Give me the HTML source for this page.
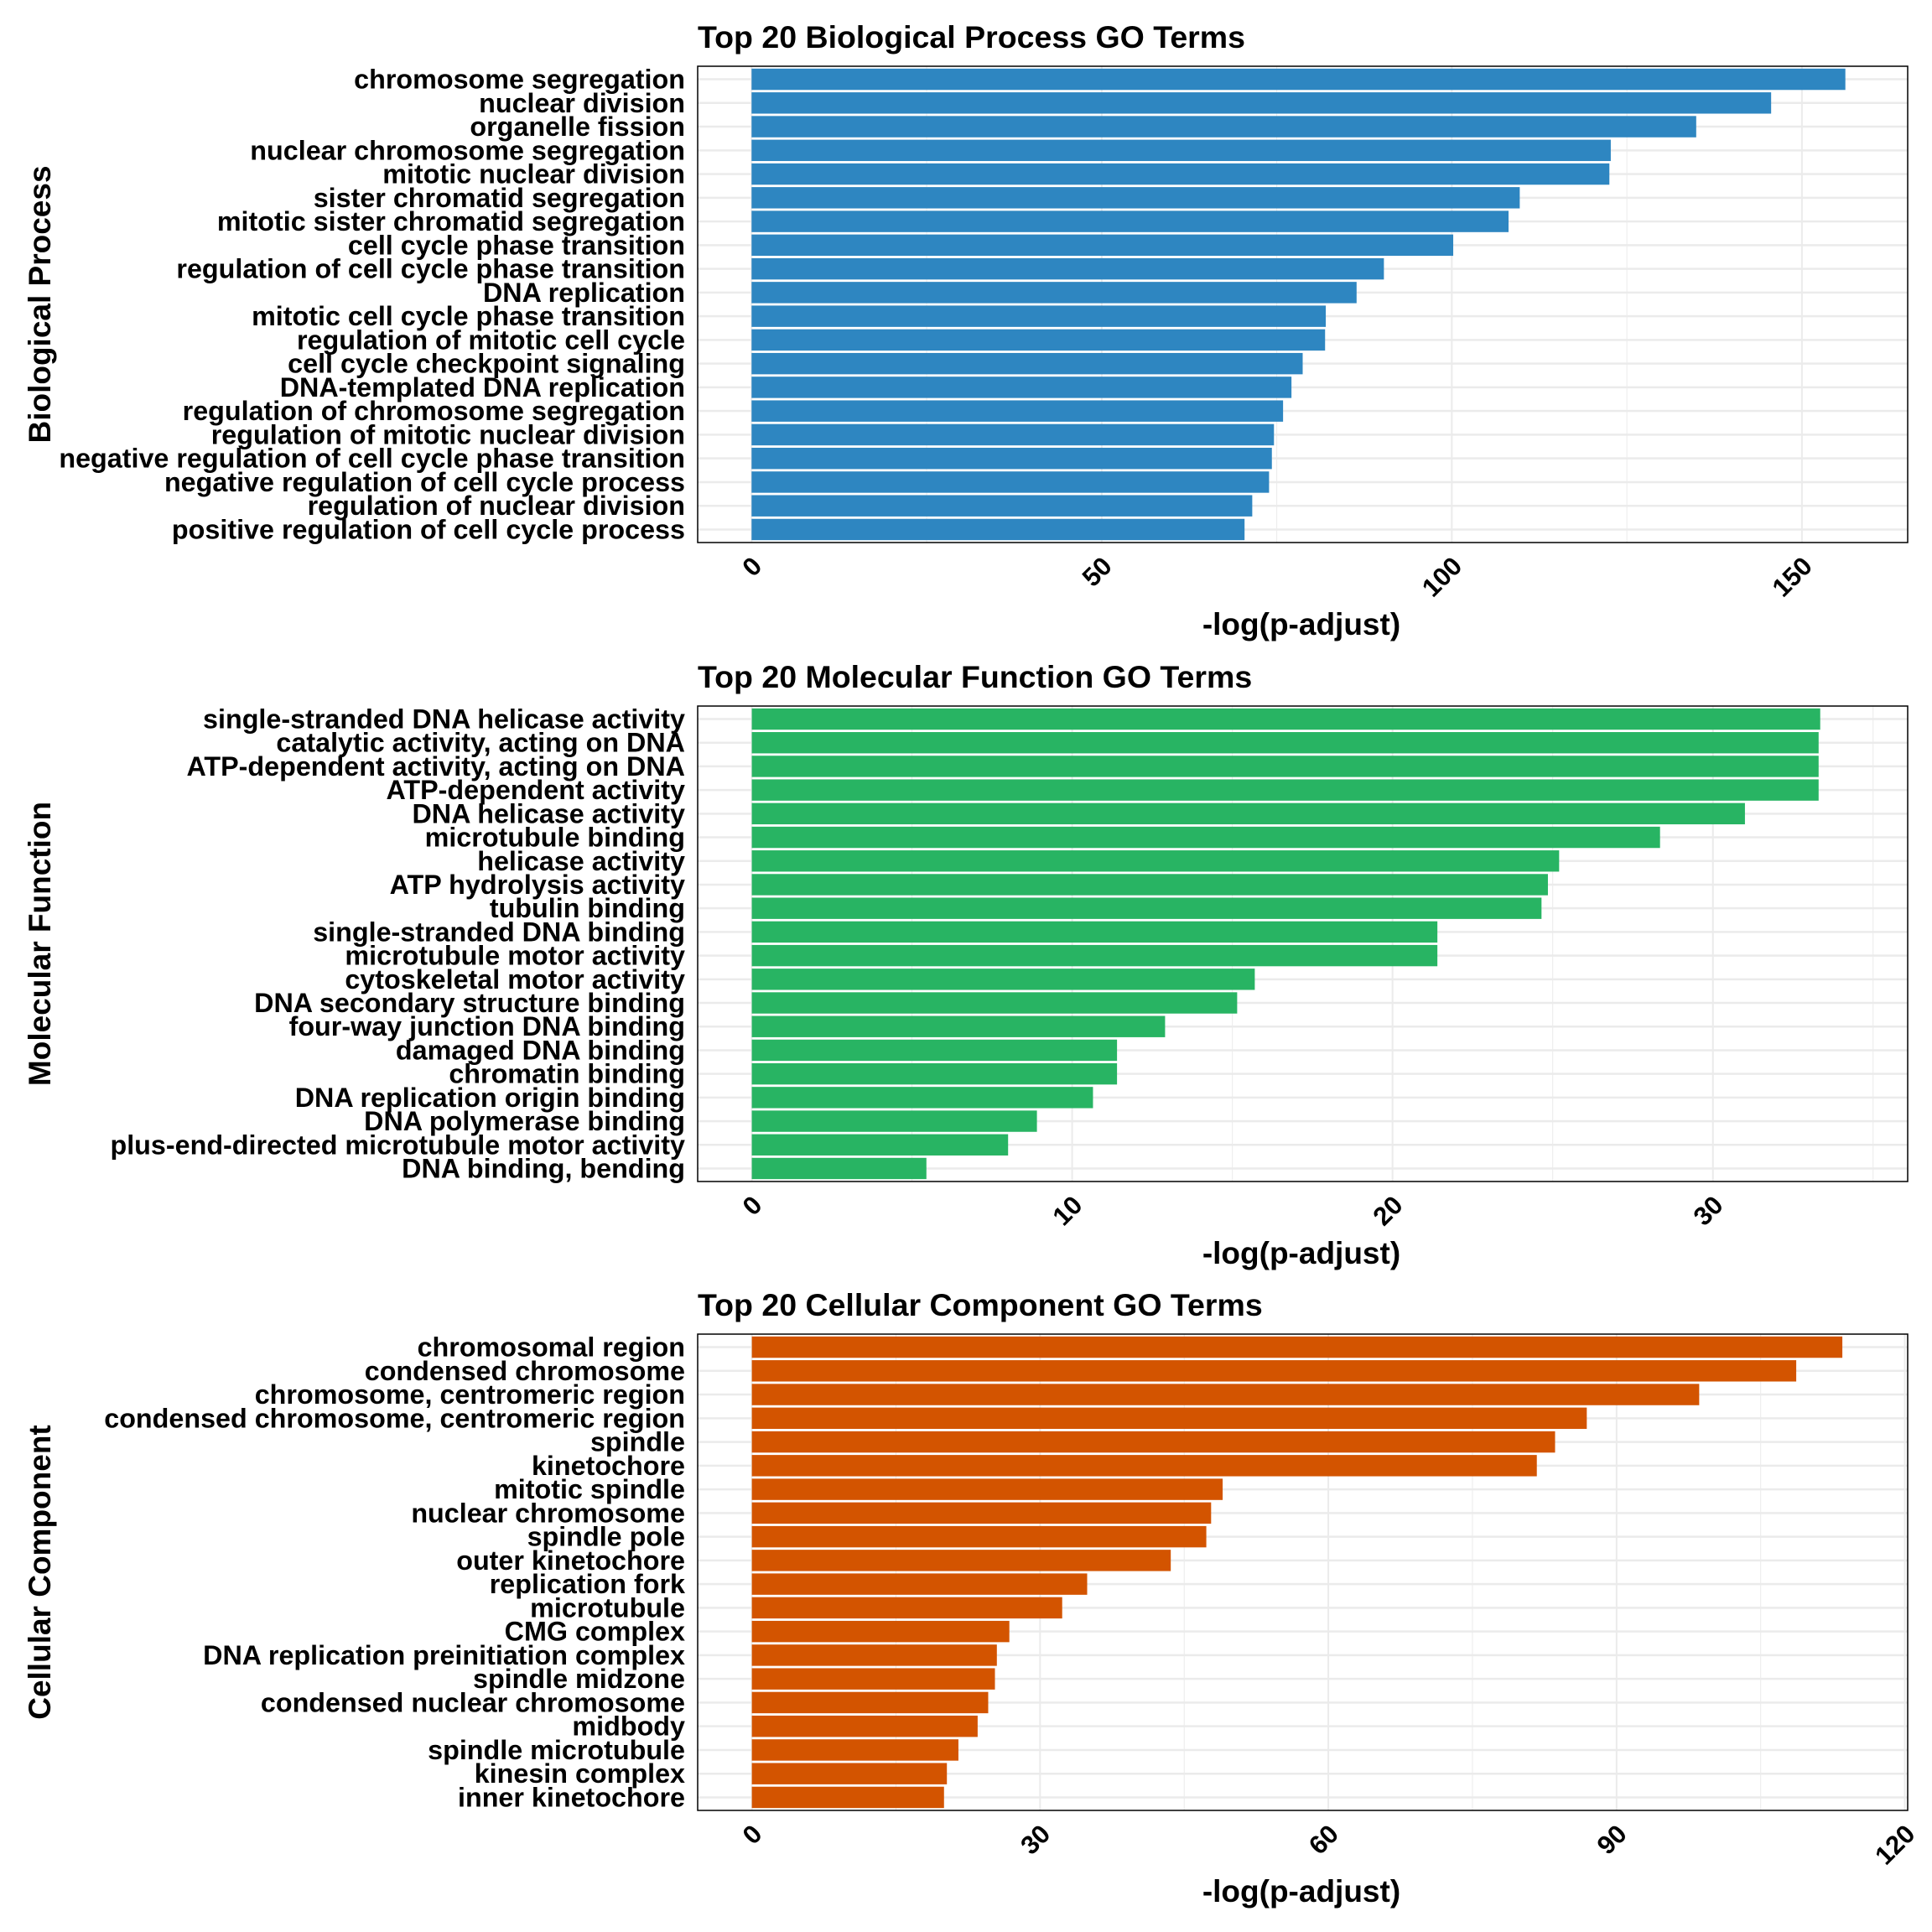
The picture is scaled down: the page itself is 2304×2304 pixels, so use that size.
<!DOCTYPE html>
<html><head><meta charset="utf-8"><style>
html,body{margin:0;padding:0;background:#fff;}
svg{display:block;font-family:"Liberation Sans",Arial,sans-serif;font-weight:bold;}
</style></head><body>
<svg id="chart" width="2304" height="2304" viewBox="0 0 2304 2304" xmlns="http://www.w3.org/2000/svg"></svg>
<script>
const bpTerms = ["chromosome segregation","nuclear division","organelle fission","nuclear chromosome segregation","mitotic nuclear division","sister chromatid segregation","mitotic sister chromatid segregation","cell cycle phase transition","regulation of cell cycle phase transition","DNA replication","mitotic cell cycle phase transition","regulation of mitotic cell cycle","cell cycle checkpoint signaling","DNA-templated DNA replication","regulation of chromosome segregation","regulation of mitotic nuclear division","negative regulation of cell cycle phase transition","negative regulation of cell cycle process","regulation of nuclear division","positive regulation of cell cycle process"];
const bpValues = [156.2,145.6,134.9,122.7,122.5,109.7,108.1,100.2,90.3,86.4,82.0,81.9,78.7,77.1,75.9,74.6,74.3,73.9,71.5,70.4];
const bpTicks = [0,50,100,150];
const mfTerms = ["single-stranded DNA helicase activity","catalytic activity, acting on DNA","ATP-dependent activity, acting on DNA","ATP-dependent activity","DNA helicase activity","microtubule binding","helicase activity","ATP hydrolysis activity","tubulin binding","single-stranded DNA binding","microtubule motor activity","cytoskeletal motor activity","DNA secondary structure binding","four-way junction DNA binding","damaged DNA binding","chromatin binding","DNA replication origin binding","DNA polymerase binding","plus-end-directed microtubule motor activity","DNA binding, bending"];
const mfValues = [33.35,33.3,33.3,33.3,31.0,28.35,25.2,24.85,24.65,21.4,21.4,15.7,15.15,12.9,11.4,11.4,10.65,8.9,8.0,5.45];
const mfTicks = [0,10,20,30];
const ccTerms = ["chromosomal region","condensed chromosome","chromosome, centromeric region","condensed chromosome, centromeric region","spindle","kinetochore","mitotic spindle","nuclear chromosome","spindle pole","outer kinetochore","replication fork","microtubule","CMG complex","DNA replication preinitiation complex","spindle midzone","condensed nuclear chromosome","midbody","spindle microtubule","kinesin complex","inner kinetochore"];
const ccValues = [113.5,108.7,98.6,86.9,83.6,81.7,49.0,47.8,47.3,43.6,34.9,32.3,26.8,25.5,25.3,24.6,23.5,21.5,20.3,20.0];
const ccTicks = [0,30,60,90,120];

const NS="http://www.w3.org/2000/svg";
const svg=document.getElementById('chart');
function mk(tag,attrs,parent){const e=document.createElementNS(NS,tag);for(const k in attrs)e.setAttribute(k,attrs[k]);(parent||svg).appendChild(e);return e;}

const panels=[
 {key:"bp",title:"Top 20 Biological Process GO Terms",ylab:"Biological Process",terms:bpTerms,values:bpValues,ticks:bpTicks,color:"#2E86C1",top:79,bottom:647,xmin:-7.7,xmax:165.1,titleY:57,xlabY:757},
 {key:"mf",title:"Top 20 Molecular Function GO Terms",ylab:"Molecular Function",terms:mfTerms,values:mfValues,ticks:mfTicks,color:"#28B463",top:842,bottom:1409,xmin:-1.69,xmax:36.08,titleY:820,xlabY:1507},
 {key:"cc",title:"Top 20 Cellular Component GO Terms",ylab:"Cellular Component",terms:ccTerms,values:ccValues,ticks:ccTicks,color:"#D35400",top:1591,bottom:2159,xmin:-5.64,xmax:120.3,titleY:1569,xlabY:2268}
];
const L=832,R=2275;

panels.forEach(p=>{
  const g=mk('g',{});
  
  
  const x=v=>L+(v-p.xmin)/(p.xmax-p.xmin)*(R-L);
  const n=p.terms.length;
  const step=(p.bottom-p.top)/(n+0.1);
  const y=i=>p.top+step*(0.55+i);
  for(let k=0;k<p.ticks.length-1;k++){
    const mid=(p.ticks[k]+p.ticks[k+1])/2;
    if(x(mid)<R){const ln=mk('line',{x1:x(mid),x2:x(mid),y1:p.top,y2:p.bottom,stroke:'#ebebeb','stroke-width':1},g);
    }
  }
  const last=p.ticks[p.ticks.length-1]+(p.ticks[1]-p.ticks[0])/2;
  if(x(last)<R){const ln=mk('line',{x1:x(last),x2:x(last),y1:p.top,y2:p.bottom,stroke:'#ebebeb','stroke-width':1},g);
    }
  p.ticks.forEach(t=>{
    if(x(t)<=R){const ln=mk('line',{x1:x(t),x2:x(t),y1:p.top,y2:p.bottom,stroke:'#ebebeb','stroke-width':2},g);
    }
  });
  for(let i=0;i<n;i++){
    const ln=mk('line',{x1:L,x2:R,y1:y(i),y2:y(i),stroke:'#ebebeb','stroke-width':2.5},g);
    
  }
  p.values.forEach((v,i)=>{
    const r=mk('rect',{x:x(0),y:y(i)-step*0.45,width:x(v)-x(0),height:step*0.9,fill:p.color},g);
    
    
    const t=mk('text',{x:817,y:y(i)+11,'text-anchor':'end','font-size':32.3,fill:'#000'},g);
    t.textContent=p.terms[i];
    
    
  });
  const border=mk('rect',{x:L,y:p.top,width:R-L,height:p.bottom-p.top,fill:'none',stroke:'#000','stroke-width':1.5},g);
  
  
  p.ticks.forEach(t=>{
    const tx=x(t)+14, ty=p.bottom+30;
    const lab=mk('text',{x:tx,y:ty,'text-anchor':'end','font-size':31,transform:`rotate(-45 ${tx} ${ty})`,fill:'#000'},g);
    lab.textContent=String(t);
    
    
  });
  const ti=mk('text',{x:L,y:p.titleY,'font-size':37.5,fill:'#000'},g);
  ti.textContent=p.title;
  
  
  const xl=mk('text',{x:1552,y:p.xlabY,'text-anchor':'middle','font-size':37,fill:'#000'},g);
  xl.textContent='-log(p-adjust)';
  
  
  const cy=(p.top+p.bottom)/2;
  const yl=mk('text',{x:60,y:cy,'text-anchor':'middle','font-size':37,transform:`rotate(-90 60 ${cy})`,fill:'#000'},g);
  yl.textContent=p.ylab;
  
  
});
</script>
</body></html>
